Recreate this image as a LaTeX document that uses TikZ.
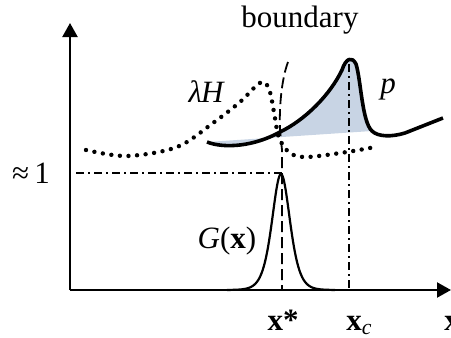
\documentclass[tikz,border=0pt]{standalone}
\usepackage{fontspec}
\setmainfont{Liberation Serif}
\usetikzlibrary{arrows.meta}
\definecolor{shadeblue}{RGB}{200,212,228}
\tikzset{
  axis/.style={line width=1.1pt,-{Triangle[width=7.5pt,length=7pt]}},
  pcurve/.style={line width=1.8pt,line join=round},
  hcurve/.style={line width=2.2pt,line cap=round,dash pattern=on 0pt off 4.3pt},
  bndline/.style={line width=0.9pt,dash pattern=on 5.5pt off 2.5pt},
  guide/.style={line width=0.8pt,dash pattern=on 4pt off 2pt on 1pt off 2pt},
  gcurve/.style={line width=1.1pt},
  lbl/.style={inner sep=0pt,anchor=base,font=\fontsize{15.5}{18}\selectfont}
}
\begin{document}
\begin{tikzpicture}[x=0.5pt,y=-0.5pt]
\useasboundingbox (0,0) rectangle (451,338);
% coordinates
\coordinate (O) at (70,290);
\coordinate (ytop) at (70,23);
\coordinate (xend) at (451,290);
\coordinate (p0) at (207,142);
\coordinate (p1) at (280,132);
\coordinate (p2) at (342,70);
\coordinate (p3) at (356,64);
\coordinate (p4) at (372,131);
\coordinate (p5) at (443,118);
\coordinate (b0) at (288,62);
\coordinate (b1) at (280,130);
\coordinate (b2) at (282,150);
\coordinate (bx) at (282,290);
\coordinate (one0) at (76,173);
\coordinate (one1) at (282,173);
\coordinate (c0) at (349,64);
\coordinate (c1) at (349,290);
% shading
\fill[shadeblue] (p0) .. controls (225,149) and (255,146) .. (p1)
  .. controls (305,120) and (330,95) .. (p2)
  .. controls (346,58) and (352,56) .. (p3)
  .. controls (361,80) and (362,122) .. (p4) -- cycle;
% guides
\draw[guide] (one0) -- (one1);
\draw[guide] (c0) -- (c1);
% boundary
\draw[bndline] (b0) .. controls (282,78) and (279,105) .. (b1)
  .. controls (281,140) .. (b2) -- (bx);
% lambda H dotted
\draw[hcurve] plot[smooth,tension=0.55] coordinates {(86,150) (127,156) (177,147) (213,123) (240,102) (256,86) (264,82) (270,92) (275,118) (279,138) (290,153) (307,157) (347,152) (375,147)};
% p curve
\draw[pcurve] (p0) .. controls (225,149) and (255,146) .. (p1)
  .. controls (305,120) and (330,95) .. (p2)
  .. controls (346,58) and (352,56) .. (p3)
  .. controls (361,80) and (362,122) .. (p4)
  .. controls (378,137) and (392,137) .. (405,133)
  -- (p5);
% G curve
\draw[gcurve] plot[domain=227:335,samples=150] (\x,{290-464/(exp((\x-281)/12)+exp(-(\x-281)/12))^2});
% axes
\draw[axis] (O) -- (ytop);
\draw[axis] (O) -- (xend);
% labels
\node[lbl] (tb) at (300,27) {boundary};
\node[lbl] (tl) at (206,102) {\itshape λ\kern-0.5pt H};
\node[lbl] (tp) at (388,93) {\itshape p};
\node[lbl] (tg) at (227,248) {\textit{G}(\textbf{x})};
\node[lbl] (tone) at (31,183) {≈\,1};
\node[lbl] (txs) at (283,330) {\textbf{x*}};
\node[lbl,anchor=base west] (txc) at (346,330) {\textbf{x}\textsubscript{\textit{c}}};
\node[lbl,anchor=base west] (tx) at (444,330) {\textbf{x}};
\end{tikzpicture}
\end{document}
